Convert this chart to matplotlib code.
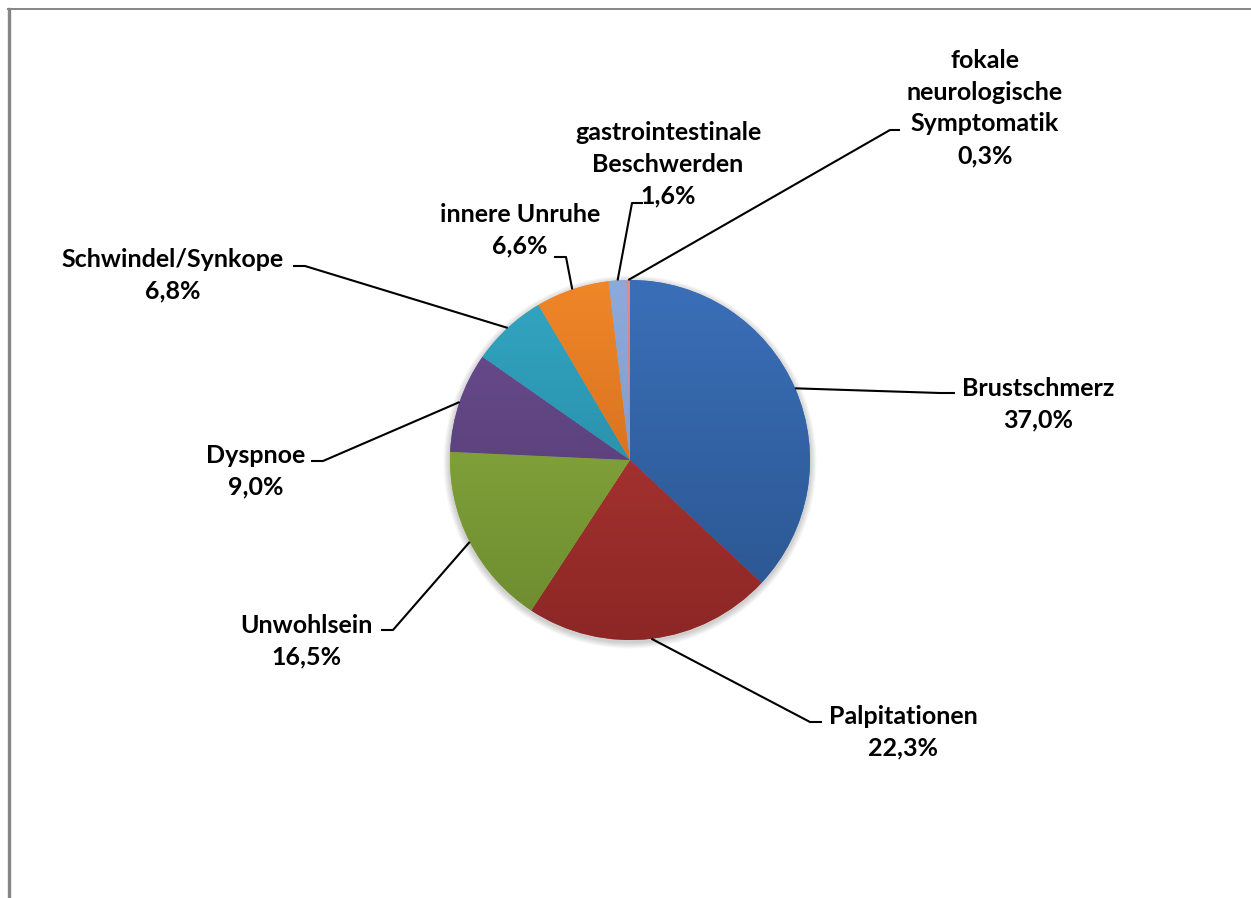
import matplotlib.pyplot as plt
import numpy as np
from matplotlib.colors import LinearSegmentedColormap
from matplotlib.patches import Circle

# symptom shares in percent, clockwise from 12 o'clock
labels = [
    "Brustschmerz",
    "Palpitationen",
    "Unwohlsein",
    "Dyspnoe",
    "Schwindel/Synkope",
    "innere Unruhe",
    "gastrointestinale\nBeschwerden",
    "fokale\nneurologische\nSymptomatik",
]
shares = [37.0, 22.3, 16.5, 9.0, 6.8, 6.6, 1.6, 0.3]

# light (top) and dark (bottom) end of each slice gradient
top_colors = ["#3a6fb8", "#b83b38", "#8fb342", "#6b4d91", "#33a6c2", "#f08628", "#8eaadb", "#e58a86"]
bottom_colors = ["#2a548e", "#8c2725", "#6c8a2f", "#4f386d", "#22809a", "#c4621a", "#7690c2", "#c86b68"]

W, H = 1251, 898


def px(x, y):
    # pixel position (origin top-left) -> data coordinates
    return x, H - y


# label block centre, leader elbow and leader end, in pixels
label_pos = [(1038, 404), (903, 732), (306, 641), (256, 471), (173, 275), (520, 230), (668, 164), (985, 108)]
elbows = [(940, 393), (810, 722), (393, 630), (323, 461), (305, 266), (566, 257), (632, 203), (890, 130)]
stub_ends = [(955, 393), (822, 722), (381, 630), (311, 461), (293, 266), (554, 257), (643, 203), (900, 130)]

fig = plt.figure(figsize=(W / 100, H / 100), dpi=100)
ax = fig.add_axes([0, 0, 1, 1])

cx, cy = px(630, 460)
r = 180

# soft shadow under the pie
for i in range(8):
    ax.add_patch(Circle((cx, cy - 2), r + 1 + i * 0.8, color="black", alpha=0.025, lw=0, zorder=1))

wedges, _ = ax.pie(shares, startangle=90, counterclock=False, center=(cx, cy), radius=r,
                   colors=top_colors, wedgeprops=dict(linewidth=0, zorder=2))

grad = np.linspace(0, 1, 256).reshape(-1, 1)
for w, c_top, c_bot in zip(wedges, top_colors, bottom_colors):
    cmap = LinearSegmentedColormap.from_list("g", [c_top, c_bot])
    im = ax.imshow(grad, cmap=cmap, aspect="auto", origin="upper",
                   extent=(cx - r, cx + r, cy - r, cy + r), zorder=3, interpolation="bilinear")
    im.set_clip_path(w)

# labels with leader lines from the slice edge
for w, lab, val, pos, elb, end in zip(wedges, labels, shares, label_pos, elbows, stub_ends):
    mid = np.deg2rad((w.theta1 + w.theta2) / 2)
    x0 = cx + r * np.cos(mid)
    y0 = cy + r * np.sin(mid)
    ex, ey = px(*elb)
    sx, sy = px(*end)
    ax.plot([x0, ex, sx], [y0, ey, sy], color="black", lw=1.5, zorder=4, solid_capstyle="butt")
    txt = f"{lab}\n{val:.1f}%".replace(".", ",")
    tx, ty = px(*pos)
    ax.text(tx, ty, txt, ha="center", va="center", fontsize=18, family="Lato", weight="bold",
            linespacing=1.46, zorder=5)

# frame lines along top and left edge
ax.plot([8, W], px(0, 9)[1] * np.ones(2), color="#858585", lw=1.4, zorder=6)
ax.plot([8.5, 8.5], [0, H - 9], color="#858585", lw=2.4, zorder=6)

ax.set_xlim(0, W)
ax.set_ylim(0, H)
ax.set_aspect("auto")
ax.axis("off")

fig.savefig("out.png", dpi=100)
